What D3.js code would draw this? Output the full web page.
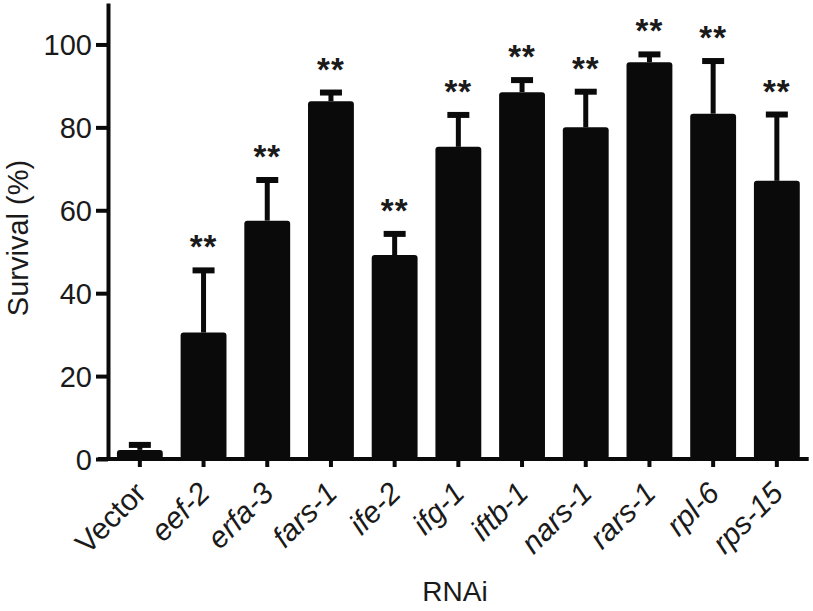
<!DOCTYPE html>
<html>
<head>
<meta charset="utf-8">
<script src="https://cdn.jsdelivr.net/npm/d3@7"></script>
<style>
  body { margin: 0; background: #fff; }
  text { font-family: "Liberation Sans", Arial, sans-serif; fill: #1a1a1a; }
</style>
</head>
<body>
<div id="survival_plot"></div>
<script>
// RNAi survival data
var genes = ["Vector", "eef-2", "erfa-3", "fars-1", "ife-2", "ifg-1", "iftb-1", "nars-1", "rars-1", "rpl-6", "rps-15"];
var survival = [2.2, 30.5, 57.5, 86.3, 49.2, 75.3, 88.5, 80.0, 95.7, 83.3, 67.1];
var sem = [1.2, 15.0, 9.8, 2.1, 5.1, 7.7, 2.9, 8.6, 1.9, 12.7, 16.0];
var signif = ["", "**", "**", "**", "**", "**", "**", "**", "**", "**", "**"];
var yTicks = [0, 20, 40, 60, 80, 100];

//Set Margins
var margin = {top: 3, right: 4, bottom: 152, left: 108},
    width = 813 - margin.left - margin.right,
    height = 611 - margin.top - margin.bottom;

var svg = d3.select("#survival_plot")
  .append("svg")
    .attr("width", 813)
    .attr("height", 611)
  .append("g")
    .attr("transform", "translate(" + margin.left + "," + margin.top + ")");

// Scales
var x = d3.scaleBand()
  .domain(genes)
  .range([0, 63.7 * genes.length])
  .paddingInner(0.28)
  .paddingOuter(0.14);

var y = d3.scaleLinear()
  .domain([0, 110])
  .range([height, 0]);

// Bars
svg.selectAll("rect.bar")
  .data(genes)
  .enter()
  .append("rect")
    .attr("class", "bar")
    .attr("x", function(d) { return x(d); })
    .attr("width", x.bandwidth())
    .attr("y", function(d, i) { return y(survival[i]); })
    .attr("height", function(d, i) { return height - y(survival[i]); })
    .attr("rx", 3)
    .style("fill", "#0a0a0a");

// Error bars (upper only)
var err = svg.selectAll("g.err")
  .data(genes)
  .enter()
  .append("g")
    .attr("class", "err")
    .attr("transform", function(d) { return "translate(" + (x(d) + x.bandwidth() / 2) + ",0)"; });

err.append("line")
  .attr("x1", 0).attr("x2", 0)
  .attr("y1", function(d, i) { return y(survival[i]); })
  .attr("y2", function(d, i) { return y(survival[i] + sem[i]); })
  .style("stroke", "#0a0a0a")
  .style("stroke-width", 5);

err.append("line")
  .attr("x1", -11).attr("x2", 11)
  .attr("y1", function(d, i) { return y(survival[i] + sem[i]); })
  .attr("y2", function(d, i) { return y(survival[i] + sem[i]); })
  .style("stroke", "#0a0a0a")
  .style("stroke-width", 6);

// Significance stars
err.append("text")
  .attr("text-anchor", "middle")
  .attr("y", function(d, i) { return y(survival[i] + sem[i]) - 12; })
  .style("font-size", "33px")
  .style("font-weight", "bold")
  .style("letter-spacing", "1px")
  .text(function(d, i) { return signif[i]; });

// Y axis
var yAxis = svg.append("g")
  .call(d3.axisLeft(y).tickValues(yTicks).tickSize(12).tickSizeOuter(0).tickPadding(4));
yAxis.select(".domain").style("stroke", "#0a0a0a").style("stroke-width", 4);
yAxis.selectAll(".tick line").style("stroke", "#0a0a0a").style("stroke-width", 4);
yAxis.selectAll(".tick text")
  .style("font-size", "29px")
  .attr("dy", "0.36em");

// X axis
var xAxis = svg.append("g")
  .attr("transform", "translate(0," + height + ")")
  .call(d3.axisBottom(x).tickSize(8).tickSizeOuter(0));
xAxis.select(".domain")
  .attr("d", "M-10,0H" + x.range()[1])
  .style("stroke", "#0a0a0a").style("stroke-width", 4);
xAxis.selectAll(".tick line").style("stroke", "#0a0a0a").style("stroke-width", 4);
xAxis.selectAll(".tick text")
  .attr("y", 0)
  .attr("dy", 0)
  .attr("text-anchor", "end")
  .attr("transform", "translate(8,36) rotate(-45)")
  .style("font-size", "30px")
  .style("font-style", function(d) { return d === "Vector" ? "normal" : "italic"; });

// Axis labels
svg.append("text")
  .attr("text-anchor", "middle")
  .attr("x", 455 - margin.left)
  .attr("y", 601 - margin.top)
  .style("font-size", "28px")
  .text("RNAi");

svg.append("text")
  .attr("text-anchor", "middle")
  .attr("transform", "translate(" + (28 - margin.left) + "," + (238 - margin.top) + ") rotate(-90)")
  .style("font-size", "29px")
  .text("Survival (%)");
</script>
</body>
</html>
